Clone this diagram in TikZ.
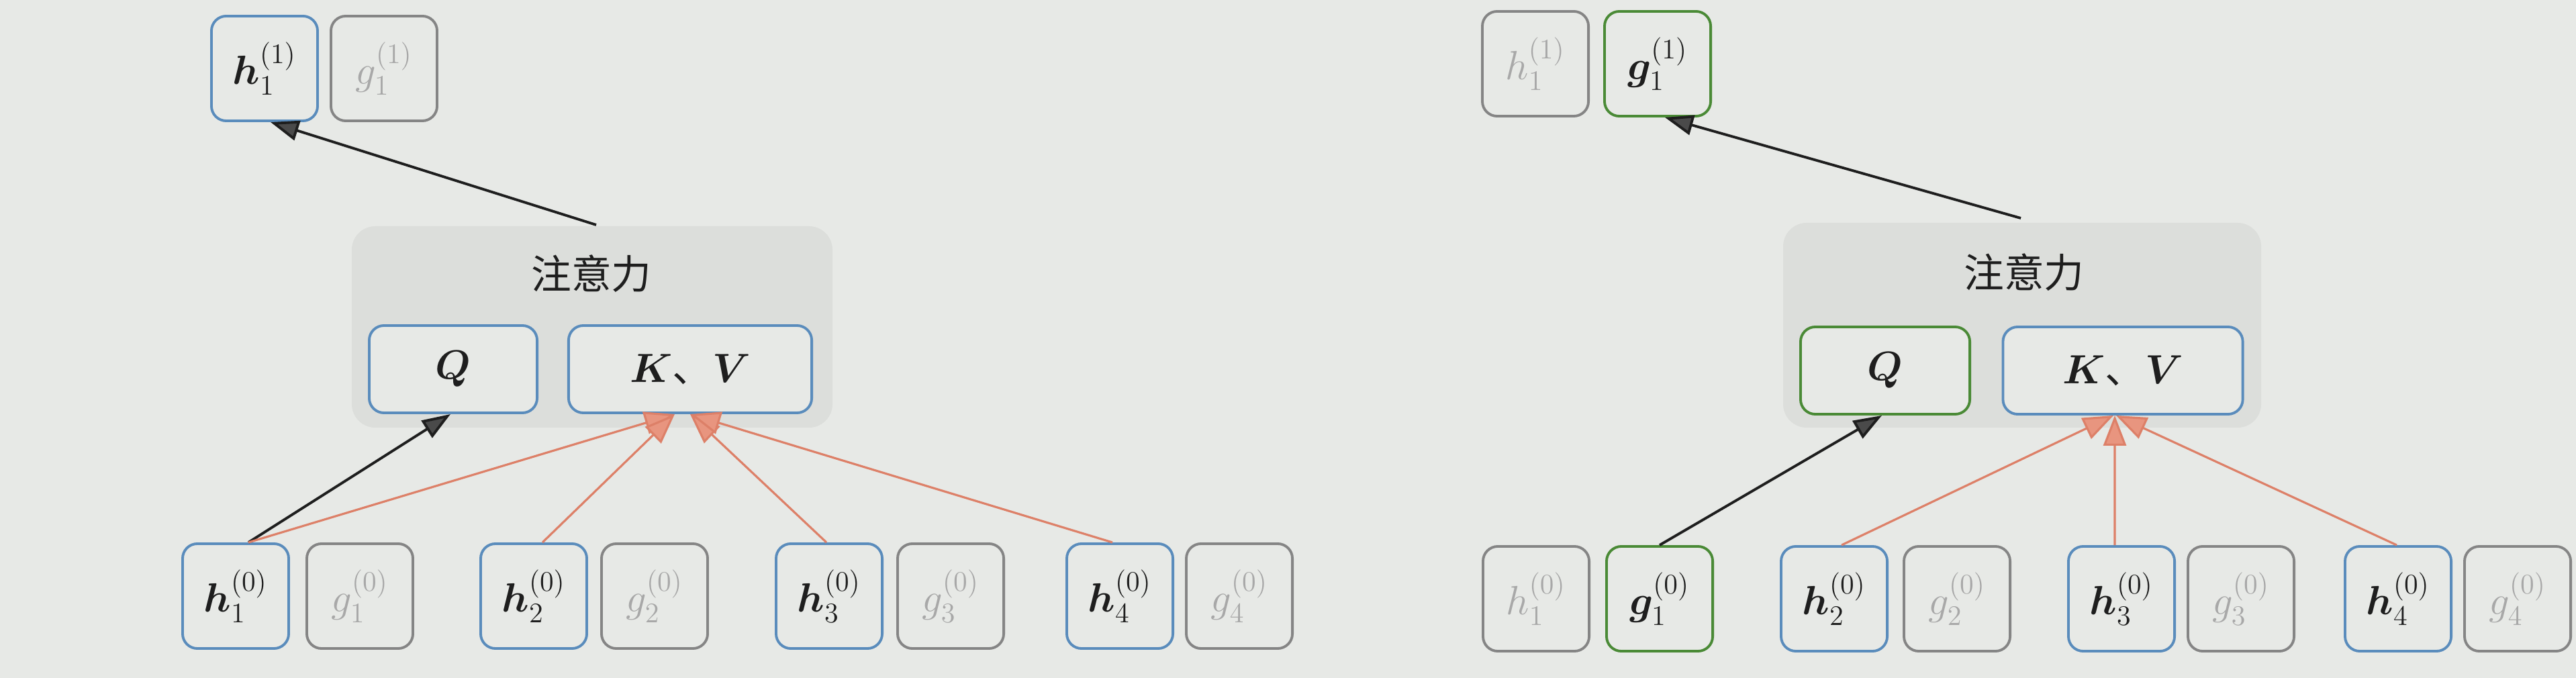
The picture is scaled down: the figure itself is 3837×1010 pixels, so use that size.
\documentclass[tikz,border=0pt]{standalone}
\usepackage{amsmath}
\usepackage{bm}
\usepackage{fontspec}
\setmainfont{Liberation Serif}
\newfontfamily\cjk{Noto Sans CJK SC}
\usetikzlibrary{arrows.meta}
\definecolor{bg}{HTML}{E7E9E6}
\definecolor{shade}{HTML}{DCDEDB}
\definecolor{bblue}{HTML}{5A8CBC}
\definecolor{bgray}{HTML}{858585}
\definecolor{bgreen}{HTML}{4A8A36}
\definecolor{salmon}{HTML}{DD8068}
\definecolor{salmonhead}{HTML}{E8957F}
\definecolor{faded}{HTML}{A8A8A8}
\definecolor{ink}{HTML}{1E1E1E}
\definecolor{darkhead}{HTML}{4A4A4A}
\newcommand{\bigmath}{\fontsize{17pt}{20pt}\selectfont}
\begin{document}
\begin{tikzpicture}[x=0.01cm,y=-0.01cm,
  cell/.style={rounded corners=0.22cm, line width=1.1pt, minimum width=1.58cm, minimum height=1.56cm, inner sep=0pt, font=\bigmath, text=ink, fill=bg},
  bluecell/.style={cell, draw=bblue},
  graycell/.style={cell, draw=bgray, text=faded},
  greencell/.style={cell, draw=bgreen},
  qk/.style={rounded corners=0.22cm, line width=1.1pt, minimum height=1.3cm, inner sep=0pt, font=\bigmath, text=ink, fill=bg},
  shadebox/.style={fill=shade, rounded corners=0.35cm},
  title/.style={font=\cjk\fontsize{17pt}{20pt}\selectfont, text=ink, inner sep=0pt},
  blackarrow/.style={draw=ink, line width=1.1pt, -{Triangle[length=0.42cm,width=0.3cm,fill=darkhead]}},
  salmonarrow/.style={draw=salmon, line width=0.9pt, -{Triangle[length=0.45cm,width=0.34cm,fill=salmonhead]}},
]
\fill[bg] (0,0) rectangle (3837,1010);
\useasboundingbox (0,0) rectangle (3837,1010);

% ---------- left panel ----------
\fill[shadebox] (524,337) rectangle (1240,637);
\node[bluecell] (Lh1t) at (394,102) {$\bm{h}_1^{(1)}$};
\node[graycell] (Lg1t) at (572,102) {$g_1^{(1)}$};
\node[title] (Lattn) at (881,408) {注意力};
\node[qk, draw=bblue, minimum width=2.5cm] (LQ) at (675,550) {$\bm{Q}$};
\node[qk, draw=bblue, minimum width=3.62cm] (LKV) at (1028,550) {$\bm{K}${\cjk 、}$\bm{V}$};
\node[bluecell] (Lh1) at (351,888) {$\bm{h}_1^{(0)}$};
\node[graycell] (Lg1) at (536,888) {$g_1^{(0)}$};
\node[bluecell] (Lh2) at (795,888) {$\bm{h}_2^{(0)}$};
\node[graycell] (Lg2) at (975,888) {$g_2^{(0)}$};
\node[bluecell] (Lh3) at (1235,888) {$\bm{h}_3^{(0)}$};
\node[graycell] (Lg3) at (1416,888) {$g_3^{(0)}$};
\node[bluecell] (Lh4) at (1668,888) {$\bm{h}_4^{(0)}$};
\node[graycell] (Lg4) at (1846,888) {$g_4^{(0)}$};

\coordinate (Ltail) at (888,335);
\draw[blackarrow] (Ltail) -- ([xshift=0.09cm]Lh1t.south);
\draw[blackarrow] ([xshift=0.19cm]Lh1.north) -- ([xshift=-0.04cm]LQ.south);
\draw[salmonarrow] ([xshift=0.19cm]Lh1.north) -- ([xshift=-0.23cm]LKV.south);
\draw[salmonarrow] ([xshift=0.13cm]Lh2.north) -- ([xshift=-0.23cm]LKV.south);
\draw[salmonarrow] ([xshift=-0.04cm]Lh3.north) -- (LKV.south);
\draw[salmonarrow] ([xshift=-0.11cm]Lh4.north) -- (LKV.south);

% ---------- right panel ----------
\fill[shadebox] (2656,332) rectangle (3368,637);
\node[graycell] (Rh1t) at (2287,95) {$h_1^{(1)}$};
\node[greencell] (Rg1t) at (2469,95) {$\bm{g}_1^{(1)}$};
\node[title] (Rattn) at (3015,406) {注意力};
\node[qk, draw=bgreen, minimum width=2.52cm] (RQ) at (2808,552) {$\bm{Q}$};
\node[qk, draw=bblue, minimum width=3.57cm] (RKV) at (3162,552) {$\bm{K}${\cjk 、}$\bm{V}$};
\node[graycell] (Rh1) at (2288,892) {$h_1^{(0)}$};
\node[greencell] (Rg1) at (2472,892) {$\bm{g}_1^{(0)}$};
\node[bluecell] (Rh2) at (2732,892) {$\bm{h}_2^{(0)}$};
\node[graycell] (Rg2) at (2915,892) {$g_2^{(0)}$};
\node[bluecell] (Rh3) at (3160,892) {$\bm{h}_3^{(0)}$};
\node[graycell] (Rg3) at (3338,892) {$g_3^{(0)}$};
\node[bluecell] (Rh4) at (3572,892) {$\bm{h}_4^{(0)}$};
\node[graycell] (Rg4) at (3750,892) {$g_4^{(0)}$};

\coordinate (Rtail) at (3010,325);
\draw[blackarrow] (Rtail) -- ([xshift=0.11cm]Rg1t.south);
\draw[blackarrow] (Rg1.north) -- ([xshift=-0.05cm]RQ.south);
\draw[salmonarrow] ([xshift=0.11cm]Rh2.north) -- ([xshift=-0.14cm]RKV.south);
\draw[salmonarrow] ([xshift=-0.1cm]Rh3.north) -- ([xshift=-0.12cm]RKV.south);
\draw[salmonarrow] ([xshift=-0.02cm]Rh4.north) -- ([xshift=-0.1cm]RKV.south);
\end{tikzpicture}
\end{document}
